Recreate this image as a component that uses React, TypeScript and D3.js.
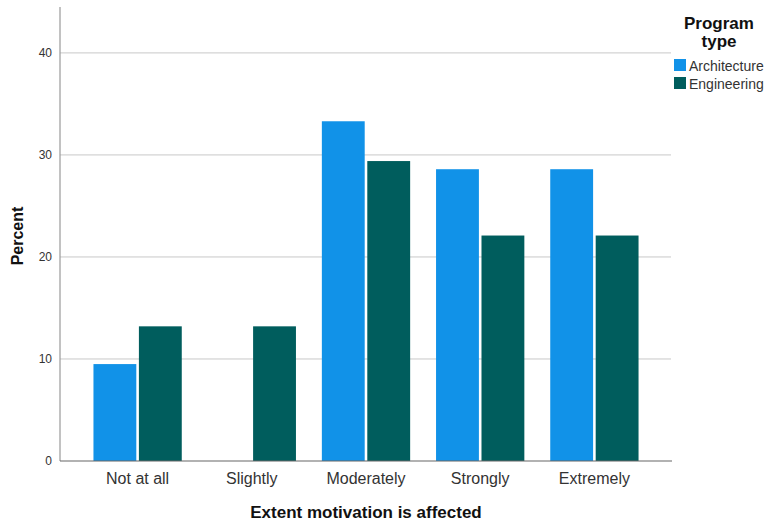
import React from "react";
import * as d3 from "d3";

const categories = ["Not at all", "Slightly", "Moderately", "Strongly", "Extremely"];
const seriesNames = ["Architecture", "Engineering"];
const architecture = [9.5, 0, 33.3, 28.6, 28.6];
const engineering = [13.2, 13.2, 29.4, 22.1, 22.1];
const yTicks = [0, 10, 20, 30, 40];
const colors = ["#1192e8", "#005d5d"];

export default function App() {
  const W = 766, H = 524;
  const left = 60, right = 672, top = 7, bottom = 461;
  const x0 = d3.scaleBand<string>().domain(categories).range([left, right]).paddingInner(0.2268).paddingOuter(0.293);
  const x1 = d3.scaleBand<string>().domain(seriesNames).range([0, x0.bandwidth()]).paddingInner(0.057);
  const y = d3.scaleLinear().domain([0, 44.5]).range([bottom, top]);
  const values = [architecture, engineering];
  const font = "Arial, 'Liberation Sans', sans-serif";
  return (
    <svg width={W} height={H} style={{ position: "absolute", left: 0, top: 0, background: "#fff" }} fontFamily={font}>
      {yTicks.map((t) => (
        <g key={t}>
          {t > 0 && <line x1={left} x2={right - 1} y1={y(t)} y2={y(t)} stroke="#c8c8c8" strokeWidth={1} />}
          <text x={52} y={y(t) + 4} textAnchor="end" fontSize={12} fill="#333">{t}</text>
        </g>
      ))}
      {seriesNames.map((s, si) =>
        categories.map((c, ci) => {
          const v = values[si][ci];
          if (!v) return null;
          return (
            <rect key={s + c} x={(x0(c) as number) + (x1(s) as number)} y={y(v)} width={x1.bandwidth()} height={bottom - y(v)} fill={colors[si]} />
          );
        })
      )}
      <line x1={left} x2={left} y1={top} y2={bottom} stroke="#999" strokeWidth={1.2} />
      <line x1={left} x2={right} y1={bottom} y2={bottom} stroke="#666" strokeWidth={1.2} />
      {categories.map((c) => (
        <text key={c} x={(x0(c) as number) + x0.bandwidth() / 2} y={484} textAnchor="middle" fontSize={16} fill="#333">{c}</text>
      ))}
      <text x={366} y={518} textAnchor="middle" fontSize={17} fontWeight="bold" fill="#111">Extent motivation is affected</text>
      <text transform={`translate(23,${236}) rotate(-90)`} textAnchor="middle" fontSize={16} fontWeight="bold" fill="#111">Percent</text>
      <text x={719} y={29} textAnchor="middle" fontSize={17} fontWeight="bold" fill="#111">Program</text>
      <text x={719} y={47} textAnchor="middle" fontSize={17} fontWeight="bold" fill="#111">type</text>
      {seriesNames.map((s, i) => (
        <g key={s}>
          <rect x={674} y={59 + i * 18} width={12} height={12} fill={colors[i]} />
          <text x={689} y={71 + i * 18} fontSize={14} fill="#333">{s}</text>
        </g>
      ))}
    </svg>
  );
}
